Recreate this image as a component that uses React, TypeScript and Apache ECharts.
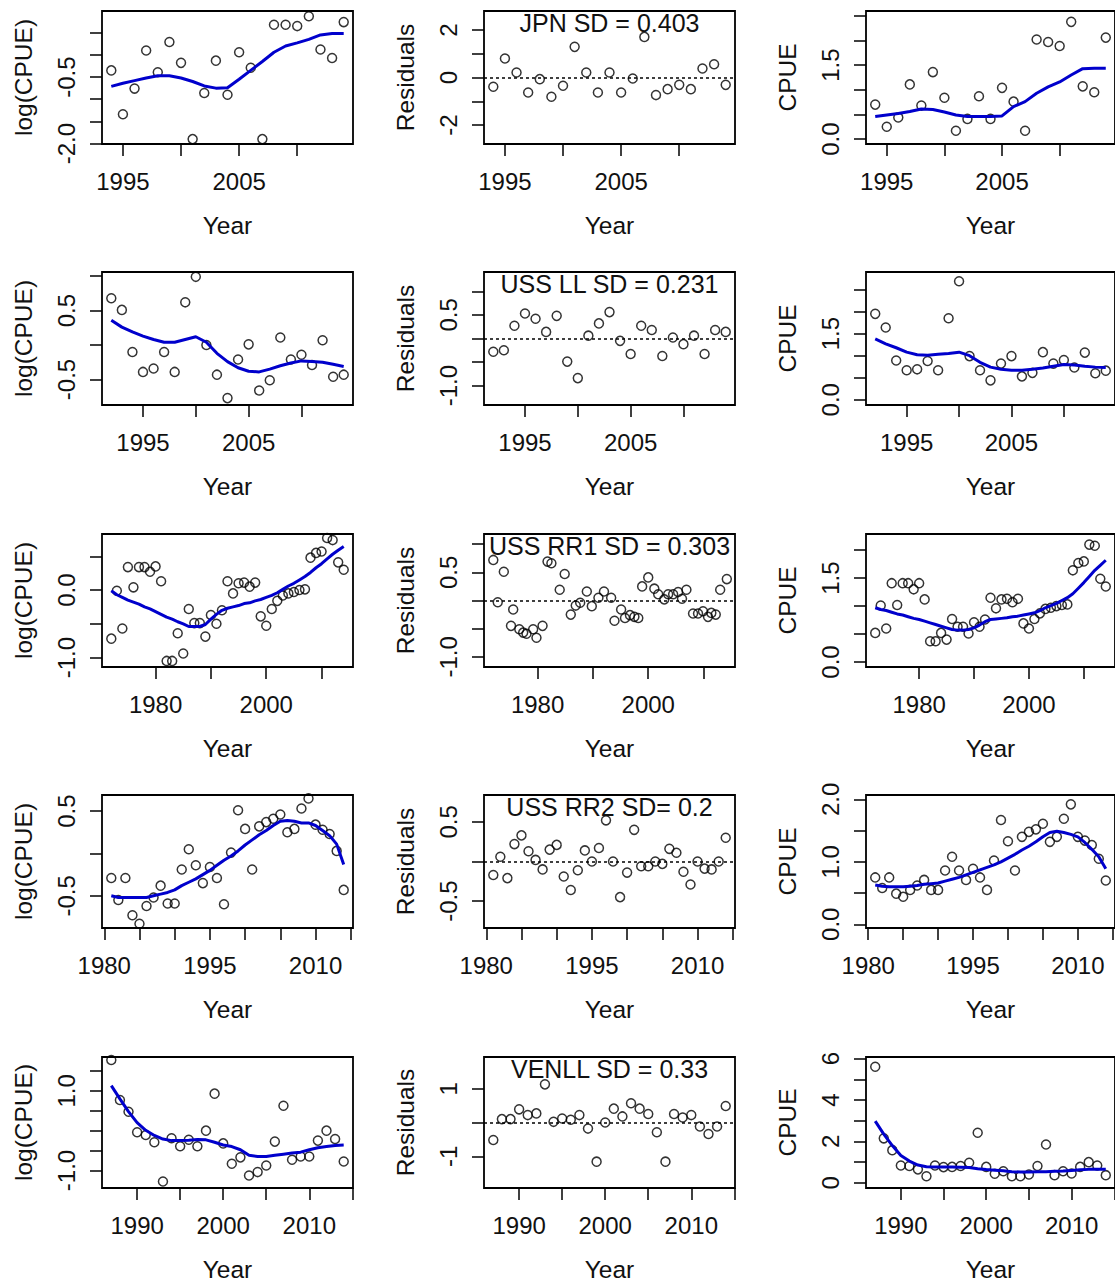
import React, { useEffect, useRef } from "react";
import * as echarts from "echarts";

// ---------------- DATA ----------------
// JPN
const jpnYears = [1994, 1995, 1996, 1997, 1998, 1999, 2000, 2001, 2002, 2003, 2004, 2005, 2006, 2007, 2008, 2009, 2010, 2011, 2012, 2013, 2014];
const jpnLog = [-0.35, -1.34, -0.76, 0.10, -0.39, 0.29, -0.18, -1.90, -0.86, -0.13, -0.90, 0.06, -0.29, -1.90, 0.68, 0.68, 0.65, 0.87, 0.12, -0.07, 0.74];
const jpnLogFit = [-0.71, -0.64, -0.58, -0.52, -0.47, -0.47, -0.52, -0.60, -0.70, -0.75, -0.74, -0.55, -0.35, -0.15, 0.06, 0.20, 0.27, 0.35, 0.45, 0.48, 0.48];
const jpnResid = [-0.39, 0.80, 0.21, -0.63, -0.07, -0.81, -0.35, 1.29, 0.21, -0.63, 0.21, -0.63, -0.04, 1.71, -0.74, -0.49, -0.31, -0.49, 0.38, 0.56, -0.31];
const jpnCpue = [0.70, 0.25, 0.44, 1.11, 0.68, 1.36, 0.84, 0.17, 0.41, 0.87, 0.41, 1.04, 0.76, 0.17, 2.02, 1.97, 1.89, 2.38, 1.07, 0.95, 2.06];
const jpnCpueFit = [0.46, 0.49, 0.52, 0.56, 0.61, 0.60, 0.55, 0.49, 0.46, 0.46, 0.46, 0.47, 0.66, 0.76, 0.93, 1.06, 1.16, 1.30, 1.43, 1.44, 1.44];

// USS LL
const ussllYears = [1992, 1993, 1994, 1995, 1996, 1997, 1998, 1999, 2000, 2001, 2002, 2003, 2004, 2005, 2006, 2007, 2008, 2009, 2010, 2011, 2012, 2013, 2014];
const ussllLog = [0.68, 0.51, -0.10, -0.39, -0.34, -0.10, -0.39, 0.62, 0.99, 0.00, -0.43, -0.77, -0.21, 0.01, -0.66, -0.51, 0.11, -0.21, -0.14, -0.29, 0.07, -0.46, -0.43];
const ussllLogFit = [0.36, 0.26, 0.19, 0.13, 0.08, 0.04, 0.04, 0.08, 0.12, 0.04, -0.12, -0.24, -0.33, -0.38, -0.39, -0.35, -0.30, -0.26, -0.23, -0.24, -0.25, -0.28, -0.31];
const ussllResid = [-0.28, -0.25, 0.27, 0.53, 0.42, 0.14, 0.48, -0.49, -0.84, 0.06, 0.32, 0.56, -0.05, -0.33, 0.27, 0.18, -0.37, 0.02, -0.12, 0.06, -0.33, 0.18, 0.14];
const ussllCpue = [1.95, 1.64, 0.89, 0.67, 0.69, 0.88, 0.67, 1.85, 2.69, 0.99, 0.67, 0.44, 0.82, 0.99, 0.53, 0.61, 1.08, 0.82, 0.90, 0.73, 1.07, 0.60, 0.66];
const ussllCpueFit = [1.38, 1.27, 1.18, 1.08, 1.02, 1.01, 1.03, 1.05, 1.08, 1.00, 0.85, 0.74, 0.69, 0.67, 0.67, 0.69, 0.72, 0.76, 0.80, 0.79, 0.76, 0.74, 0.73];

// USS RR1
const rr1Years = [1972, 1973, 1974, 1975, 1976, 1977, 1978, 1979, 1980, 1981, 1982, 1983, 1984, 1985, 1986, 1987, 1988, 1989, 1990, 1991, 1992, 1993, 1994, 1995, 1996, 1997, 1998, 1999, 2000, 2001, 2002, 2003, 2004, 2005, 2006, 2007, 2008, 2009, 2010, 2011, 2012, 2013, 2014];
const rr1Log = [-0.72, -0.01, -0.57, 0.34, 0.04, 0.34, 0.34, 0.27, 0.35, 0.13, -1.05, -1.05, -0.64, -0.94, -0.28, -0.49, -0.49, -0.69, -0.37, -0.50, -0.30, 0.13, -0.05, 0.10, 0.11, 0.05, 0.11, -0.39, -0.53, -0.28, -0.16, -0.08, -0.05, -0.03, 0.00, 0.01, 0.48, 0.55, 0.57, 0.77, 0.74, 0.41, 0.30];
const rr1LogFit = [-0.01, -0.07, -0.11, -0.15, -0.18, -0.21, -0.25, -0.28, -0.32, -0.36, -0.40, -0.43, -0.47, -0.50, -0.54, -0.54, -0.54, -0.51, -0.43, -0.36, -0.30, -0.27, -0.25, -0.23, -0.20, -0.19, -0.16, -0.14, -0.11, -0.08, -0.04, 0.01, 0.06, 0.10, 0.15, 0.20, 0.26, 0.33, 0.39, 0.46, 0.53, 0.59, 0.645];
const rr1ResidYears = [1972, 1972.8, 1973.9, 1975.2, 1975.6, 1976.7, 1977.4, 1978.0, 1979.2, 1979.8, 1980.9, 1981.8, 1982.5, 1984.0, 1984.9, 1986.0, 1986.9, 1987.7, 1988.9, 1989.8, 1991.0, 1992.0, 1993.3, 1993.9, 1995.1, 1995.8, 1996.7, 1997.5, 1998.2, 1998.9, 2000.0, 2001.1, 2001.8, 2002.9, 2003.6, 2004.5, 2005.4, 2006.1, 2006.9, 2008.1, 2009.0, 2009.9, 2010.8, 2011.4, 2012.2, 2013.0, 2014.2];
const rr1Resid = [0.72, -0.03, 0.51, -0.45, -0.16, -0.51, -0.57, -0.59, -0.51, -0.66, -0.45, 0.69, 0.66, 0.19, 0.47, -0.25, -0.09, -0.04, 0.16, -0.10, 0.05, 0.16, 0.05, -0.36, -0.16, -0.31, -0.26, -0.29, -0.31, 0.25, 0.41, 0.21, 0.11, 0.02, 0.11, 0.11, 0.15, 0.03, 0.19, -0.23, -0.23, -0.19, -0.29, -0.22, -0.25, 0.19, 0.38];
const rr1Cpue = [0.52, 1.01, 0.60, 1.41, 1.02, 1.41, 1.41, 1.30, 1.41, 1.12, 0.37, 0.37, 0.52, 0.40, 0.77, 0.63, 0.63, 0.51, 0.71, 0.63, 0.76, 1.15, 0.96, 1.12, 1.13, 1.07, 1.13, 0.69, 0.60, 0.77, 0.87, 0.95, 0.97, 1.00, 1.02, 1.03, 1.64, 1.77, 1.80, 2.10, 2.08, 1.49, 1.35];
const rr1CpueFit = [0.97, 0.94, 0.92, 0.89, 0.86, 0.84, 0.81, 0.78, 0.76, 0.73, 0.70, 0.67, 0.64, 0.61, 0.58, 0.57, 0.57, 0.58, 0.61, 0.66, 0.72, 0.76, 0.77, 0.78, 0.79, 0.81, 0.82, 0.84, 0.86, 0.88, 0.92, 0.97, 1.01, 1.05, 1.10, 1.15, 1.22, 1.32, 1.42, 1.53, 1.64, 1.73, 1.82];

// USS RR2
const rr2Years = [1981, 1982, 1983, 1984, 1985, 1986, 1987, 1988, 1989, 1990, 1991, 1992, 1993, 1994, 1995, 1996, 1997, 1998, 1999, 2000, 2001, 2002, 2003, 2004, 2005, 2006, 2007, 2008, 2009, 2010, 2011, 2012, 2013, 2014];
const rr2Log = [-0.29, -0.55, -0.29, -0.73, -0.83, -0.62, -0.52, -0.38, -0.59, -0.59, -0.19, 0.05, -0.14, -0.35, -0.16, -0.29, -0.60, 0.01, 0.51, 0.29, -0.19, 0.32, 0.37, 0.41, 0.46, 0.25, 0.29, 0.53, 0.65, 0.34, 0.28, 0.23, 0.03, -0.43];
const rr2LogFit = [-0.50, -0.52, -0.52, -0.52, -0.52, -0.52, -0.50, -0.48, -0.46, -0.43, -0.38, -0.34, -0.30, -0.25, -0.20, -0.14, -0.08, -0.03, 0.03, 0.10, 0.16, 0.22, 0.27, 0.33, 0.38, 0.39, 0.38, 0.36, 0.36, 0.33, 0.27, 0.21, 0.11, -0.13];
const rr2Resid = [-0.17, 0.06, -0.21, 0.22, 0.33, 0.13, 0.02, -0.10, 0.15, 0.21, -0.19, -0.36, -0.11, 0.14, 0.00, 0.17, 0.52, 0.00, -0.45, -0.14, 0.40, -0.06, -0.06, 0.00, -0.03, 0.16, 0.11, -0.13, -0.29, 0.00, -0.09, -0.10, 0.00, 0.30];
const rr2Cpue = [0.75, 0.58, 0.75, 0.49, 0.44, 0.55, 0.62, 0.71, 0.55, 0.55, 0.86, 1.08, 0.86, 0.71, 0.89, 0.75, 0.55, 1.02, 1.67, 1.33, 0.86, 1.40, 1.48, 1.52, 1.61, 1.32, 1.40, 1.69, 1.92, 1.40, 1.34, 1.27, 1.05, 0.70];
const rr2CpueFit = [0.63, 0.61, 0.60, 0.60, 0.60, 0.61, 0.62, 0.64, 0.65, 0.66, 0.69, 0.72, 0.75, 0.79, 0.83, 0.87, 0.91, 0.95, 1.00, 1.06, 1.12, 1.19, 1.25, 1.32, 1.40, 1.47, 1.49, 1.47, 1.44, 1.40, 1.31, 1.20, 1.08, 0.89];

// VENLL
const venYears = [1987, 1988, 1989, 1990, 1991, 1992, 1993, 1994, 1995, 1996, 1997, 1998, 1999, 2000, 2001, 2002, 2003, 2004, 2005, 2006, 2007, 2008, 2009, 2010, 2011, 2012, 2013, 2014];
const venLog = [1.775, 0.77, 0.475, -0.04, -0.11, -0.29, -1.275, -0.19, -0.39, -0.23, -0.39, 0.0, 0.93, -0.32, -0.83, -0.67, -1.125, -1.04, -0.875, -0.275, 0.625, -0.73, -0.65, -0.65, -0.25, 0.0, -0.21, -0.775];
const venLogFit = [1.13, 0.80, 0.48, 0.20, 0.01, -0.12, -0.21, -0.25, -0.25, -0.24, -0.22, -0.23, -0.29, -0.36, -0.40, -0.48, -0.62, -0.65, -0.65, -0.62, -0.59, -0.56, -0.54, -0.48, -0.43, -0.40, -0.37, -0.36];
const venResid = [-0.52, 0.10, 0.10, 0.39, 0.22, 0.27, 1.13, 0.02, 0.12, 0.08, 0.22, -0.18, -1.16, 0.00, 0.41, 0.18, 0.57, 0.41, 0.25, -0.29, -1.16, 0.25, 0.15, 0.22, -0.12, -0.34, -0.12, 0.49];
const venCpue = [5.61, 2.15, 1.58, 0.84, 0.81, 0.65, 0.32, 0.84, 0.76, 0.77, 0.81, 0.97, 2.42, 0.77, 0.44, 0.56, 0.32, 0.32, 0.40, 0.81, 1.85, 0.37, 0.56, 0.45, 0.77, 1.00, 0.84, 0.37];
const venCpueFit = [2.98, 2.35, 1.80, 1.32, 1.05, 0.86, 0.78, 0.76, 0.76, 0.76, 0.75, 0.74, 0.68, 0.64, 0.61, 0.58, 0.54, 0.52, 0.52, 0.53, 0.54, 0.56, 0.57, 0.60, 0.63, 0.65, 0.65, 0.65];

// Panel texts
const sdLabels = ["JPN SD = 0.403", "USS LL SD = 0.231", "USS RR1 SD = 0.303", "USS RR2 SD= 0.2", "VENLL SD = 0.33"];

// Tick marks and tick labels
const xTicks9x = [1995, 2000, 2005, 2010];
const xLabels9x = [1995, 2005];
const xTicksRR1 = [1980, 1990, 2000, 2010];
const xLabelsRR1 = [1980, 2000];
const xTicksRR2 = [1980, 1985, 1990, 1995, 2000, 2005, 2010, 2015];
const xLabelsRR2 = [1980, 1995, 2010];
const xTicksVen = [1990, 1995, 2000, 2005, 2010, 2015];
const xLabelsVen = [1990, 2000, 2010];

const jpnLogTicks = [-2, -1.5, -1, -0.5, 0, 0.5];
const jpnLogLabels = [-2, -0.5];
const jpnResTicks = [-2, -1, 0, 1, 2];
const jpnResLabels = [-2, 0, 2];
const jpnCpueTicks = [0, 0.5, 1, 1.5, 2, 2.5];
const jpnCpueLabels = [0, 1.5];

const ussllLogTicks = [-0.5, 0, 0.5, 1];
const ussllLogLabels = [-0.5, 0.5];
const ussllResTicks = [-1, -0.5, 0, 0.5, 1];
const ussllResLabels = [-1, 0.5];
const ussllCpueTicks = [0, 0.5, 1, 1.5, 2, 2.5];
const ussllCpueLabels = [0, 1.5];

const rr1LogTicks = [-1, -0.5, 0, 0.5];
const rr1LogLabels = [-1, 0];
const rr1ResTicks = [-1, -0.5, 0, 0.5, 1];
const rr1ResLabels = [-1, 0.5];
const rr1CpueTicks = [0, 0.5, 1, 1.5, 2];
const rr1CpueLabels = [0, 1.5];

const rr2LogTicks = [-0.5, 0, 0.5];
const rr2LogLabels = [-0.5, 0.5];
const rr2ResTicks = [-0.5, 0, 0.5];
const rr2ResLabels = [-0.5, 0.5];
const rr2CpueTicks = [0, 0.5, 1, 1.5, 2];
const rr2CpueLabels = [0, 1, 2];

const venLogTicks = [-1, -0.5, 0, 0.5, 1, 1.5];
const venLogLabels = [-1, 1];
const venResTicks = [-1, 0, 1];
const venResLabels = [-1, 1];
const venCpueTicks = [0, 1, 2, 3, 4, 5, 6];
const venCpueLabels = [0, 2, 4, 6];

// ---------------- LAYOUT ----------------
const FONT = "'Liberation Sans', Arial, Helvetica, sans-serif";
const COL_LEFT = [102, 484, 866];
const ROW_TOP = [11, 272, 534, 795, 1057];
const PW = 251;
const PH = 133;
const LABEL_SIZE = 24;
const NAME_SIZE = 24.5;
const BLUE = "#0000cc";

const zip = (xs: number[], ys: number[]) => xs.map((x, i) => [x, ys[i]]);
const rRange = (lo: number, hi: number) => {
  const d = (hi - lo) * 0.04;
  return [lo - d, hi + d];
};

const fleets = [
  {
    years: jpnYears, log: jpnLog, logFit: jpnLogFit, resid: zip(jpnYears, jpnResid), cpue: jpnCpue, cpueFit: jpnCpueFit,
    xTicks: xTicks9x, xLabels: xLabels9x,
    logY: [-2.01, 0.99], logTicks: jpnLogTicks, logLabels: jpnLogLabels,
    resY: [-2.8, 2.8], resTicks: jpnResTicks, resLabels: jpnResLabels, resDec: 0,
    cpueY: [-0.1, 2.6], cpueTicks: jpnCpueTicks, cpueLabels: jpnCpueLabels, cpueDec: 1,
  },
  {
    years: ussllYears, log: ussllLog, logFit: ussllLogFit, resid: zip(ussllYears, ussllResid), cpue: ussllCpue, cpueFit: ussllCpueFit,
    xTicks: xTicks9x, xLabels: xLabels9x,
    logY: [-0.87, 1.06], logTicks: ussllLogTicks, logLabels: ussllLogLabels,
    resY: [-1.41, 1.41], resTicks: ussllResTicks, resLabels: ussllResLabels, resDec: 1,
    cpueY: [-0.12, 2.9], cpueTicks: ussllCpueTicks, cpueLabels: ussllCpueLabels, cpueDec: 1,
  },
  {
    years: rr1Years, log: rr1Log, logFit: rr1LogFit, resid: zip(rr1ResidYears, rr1Resid), cpue: rr1Cpue, cpueFit: rr1CpueFit,
    xTicks: xTicksRR1, xLabels: xLabelsRR1,
    logY: [-1.14, 0.83], logTicks: rr1LogTicks, logLabels: rr1LogLabels,
    resY: [-1.18, 1.18], resTicks: rr1ResTicks, resLabels: rr1ResLabels, resDec: 1,
    cpueY: [-0.09, 2.29], cpueTicks: rr1CpueTicks, cpueLabels: rr1CpueLabels, cpueDec: 1,
  },
  {
    years: rr2Years, log: rr2Log, logFit: rr2LogFit, resid: zip(rr2Years, rr2Resid), cpue: rr2Cpue, cpueFit: rr2CpueFit,
    xTicks: xTicksRR2, xLabels: xLabelsRR2,
    logY: [-0.88, 0.69], logTicks: rr2LogTicks, logLabels: rr2LogLabels,
    resY: [-0.84, 0.84], resTicks: rr2ResTicks, resLabels: rr2ResLabels, resDec: 1,
    cpueY: [-0.06, 2.07], cpueTicks: rr2CpueTicks, cpueLabels: rr2CpueLabels, cpueDec: 1,
  },
  {
    years: venYears, log: venLog, logFit: venLogFit, resid: zip(venYears, venResid), cpue: venCpue, cpueFit: venCpueFit,
    xTicks: xTicksVen, xLabels: xLabelsVen,
    logY: [-1.44, 1.85], logTicks: venLogTicks, logLabels: venLogLabels,
    resY: [-1.94, 1.94], resTicks: venResTicks, resLabels: venResLabels, resDec: 0,
    cpueY: [-0.25, 6.08], cpueTicks: venCpueTicks, cpueLabels: venCpueLabels, cpueDec: 0,
  },
];

function buildOption() {
  const grid: any[] = [];
  const xAxis: any[] = [];
  const yAxis: any[] = [];
  const series: any[] = [];
  const graphic: any[] = [];

  fleets.forEach((f, r) => {
    const [xmin, xmax] = rRange(f.years[0], f.years[f.years.length - 1]);
    const panels = [
      { name: "log(CPUE)", yr: f.logY, yt: f.logTicks, yl: f.logLabels, dec: 1, pts: zip(f.years, f.log), fit: zip(f.years, f.logFit), res: false },
      { name: "Residuals", yr: f.resY, yt: f.resTicks, yl: f.resLabels, dec: f.resDec, pts: f.resid, fit: null, res: true },
      { name: "CPUE", yr: f.cpueY, yt: f.cpueTicks, yl: f.cpueLabels, dec: f.cpueDec, pts: zip(f.years, f.cpue), fit: zip(f.years, f.cpueFit), res: false },
    ];
    panels.forEach((p, c) => {
      const idx = grid.length;
      grid.push({
        left: COL_LEFT[c], top: ROW_TOP[r], width: PW, height: PH,
        show: true, borderColor: "#000", borderWidth: 1.8, backgroundColor: "transparent",
        containLabel: false,
      });
      xAxis.push({
        type: "value", gridIndex: idx, min: xmin, max: xmax, position: "bottom",
        name: "Year", nameLocation: "middle", nameGap: 69,
        nameTextStyle: { fontFamily: FONT, fontSize: NAME_SIZE, color: "#111" },
        axisLine: { show: false, onZero: false },
        axisTick: { show: true, length: 12, lineStyle: { color: "#000", width: 1.5 }, customValues: f.xTicks },
        axisLabel: {
          show: true, customValues: f.xLabels, margin: 25, fontFamily: FONT, fontSize: LABEL_SIZE, color: "#111",
          formatter: (v: number) => String(Math.round(v)),
        },
        splitLine: { show: false },
      });
      yAxis.push({
        type: "value", gridIndex: idx, min: p.yr[0], max: p.yr[1], position: "left",
        name: p.name, nameLocation: "middle", nameGap: 66,
        nameTextStyle: { fontFamily: FONT, fontSize: NAME_SIZE, color: "#111" },
        axisLine: { show: false, onZero: false },
        axisTick: { show: true, length: 12, lineStyle: { color: "#000", width: 1.5 }, customValues: p.yt },
        axisLabel: {
          show: true, customValues: p.yl, rotate: 90, margin: 24, fontFamily: FONT, fontSize: LABEL_SIZE, color: "#111",
          formatter: (v: number) => v.toFixed(p.dec),
        },
        splitLine: { show: false },
      });
      const scatter: any = {
        type: "scatter", xAxisIndex: idx, yAxisIndex: idx, data: p.pts,
        symbol: "circle", symbolSize: 9, silent: true,
        itemStyle: { color: "rgba(0,0,0,0)", borderColor: "#000", borderWidth: 1.5 },
        z: 2,
      };
      if (p.res) {
        scatter.markLine = {
          silent: true, symbol: ["none", "none"], label: { show: false },
          lineStyle: { color: "#000", width: 1.5, type: [3, 3] },
          data: [{ yAxis: 0 }],
        };
      }
      series.push(scatter);
      if (p.fit) {
        series.push({
          type: "line", xAxisIndex: idx, yAxisIndex: idx, data: p.fit,
          showSymbol: false, symbol: "none", smooth: false, silent: true,
          lineStyle: { color: BLUE, width: 3 }, z: 3,
        });
      }
    });
    graphic.push({
      type: "text", x: COL_LEFT[1] + PW / 2, y: ROW_TOP[r] + 12, z: 10,
      style: {
        text: sdLabels[r], fontFamily: FONT, fontSize: 25, fill: "#111",
        align: "center", verticalAlign: "middle", textAlign: "center", textVerticalAlign: "middle",
      },
    });
  });

  return { animation: false, backgroundColor: "#fff", grid, xAxis, yAxis, series, graphic };
}

export default function App() {
  const ref = useRef<HTMLDivElement>(null);
  useEffect(() => {
    document.body.style.margin = "0";
    const chart = echarts.init(ref.current!, null, { renderer: "svg" });
    chart.setOption(buildOption() as any);
    return () => chart.dispose();
  }, []);
  return <div ref={ref} style={{ width: 1115, height: 1283 }} />;
}
